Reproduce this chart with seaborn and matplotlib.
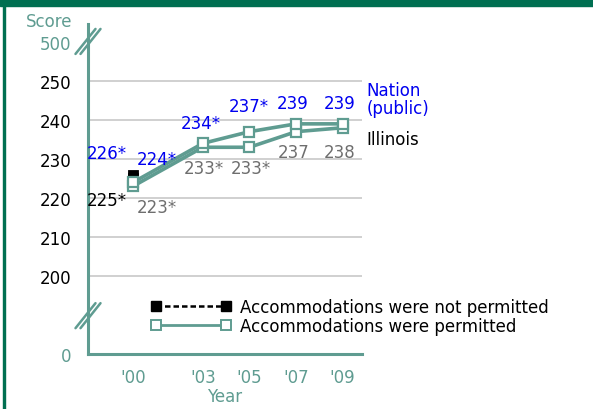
import numpy as np
import pandas as pd
import seaborn as sns
import matplotlib.pyplot as plt
from matplotlib.lines import Line2D
from matplotlib.patches import Rectangle

# ---- data ----
years = [2000, 2003, 2005, 2007, 2009]
year_labels = ["'00", "'03", "'05", "'07", "'09"]
nation_permitted = [224, 234, 237, 239, 239]
illinois_permitted = [223, 233, 233, 237, 238]
not_permitted_year = [2000, 2000]
not_permitted_score = [226, 225]          # nation, illinois
nation_labels = ["224*", "234*", "237*", "239", "239"]
illinois_labels = ["223*", "233*", "233*", "237", "238"]
not_permitted_labels = ["226*", "225*"]
score_ticks = [200, 210, 220, 230, 240, 250]

# ---- styles ----
TEAL = "#5f9c91"
DARK_GREEN = "#006f51"
BLUE = "#0000f0"
GRAY = "#6e6e6e"
FS = 12

sns.set_style("white")
plt.rcParams["font.family"] = ["DejaVu Sans"]
plt.rcParams["text.color"] = "black"
plt.rcParams["ytick.color"] = "black"

fig = plt.figure(figsize=(5.93, 4.10), dpi=100)
W, H = 593, 410
ax = fig.add_axes([88 / W, 1 - 355 / H, (362 - 88) / W, (355 - 25) / H])

# broken axis: "0" drawn at 180, "500" drawn at 260
ZERO_POS, TOP_POS = 180, 260
ax.set_ylim(ZERO_POS, 264.6)
ax.set_xlim(1998.07, 2009.83)

for t in score_ticks:
    ax.axhline(t, color="#c4c4c4", lw=1.1, zorder=0)

# not permitted points (behind)
sns.scatterplot(x=not_permitted_year, y=not_permitted_score, marker="s",
                color="black", s=55, edgecolor="black", ax=ax, zorder=2,
                legend=False)

df = pd.DataFrame({
    "year": years * 2,
    "score": nation_permitted + illinois_permitted,
    "jur": ["Nation"] * len(years) + ["Illinois"] * len(years),
})
sns.lineplot(data=df, x="year", y="score", units="jur", estimator=None,
             color=TEAL, lw=2.6, marker="s", markersize=7,
             markerfacecolor="white", markeredgecolor=TEAL,
             markeredgewidth=1.6, ax=ax, zorder=3, legend=False)

# value labels (offsets in pixels)
nat_off = [(24, 23), (-2, 20), (-1, 26), (-3, 21), (-3, 21)]
ill_off = [(24, -21), (1, -21), (1, -21), (-2, -20), (-3, -24)]
for x, y, s, (dx, dy) in zip(years, nation_permitted, nation_labels, nat_off):
    ax.annotate(s, (x, y), xytext=(dx * 0.72, dy * 0.72), textcoords="offset points",
                ha="center", va="center", color=BLUE, fontsize=FS)
for x, y, s, (dx, dy) in zip(years, illinois_permitted, illinois_labels, ill_off):
    ax.annotate(s, (x, y), xytext=(dx * 0.72, dy * 0.72), textcoords="offset points",
                ha="center", va="center", color=GRAY, fontsize=FS)
np_off = [(-26, 22), (-26, -22)]
np_col = [BLUE, "black"]
for x, y, s, (dx, dy), c in zip(not_permitted_year, not_permitted_score,
                                not_permitted_labels, np_off, np_col):
    ax.annotate(s, (x, y), xytext=(dx * 0.72, dy * 0.72), textcoords="offset points",
                ha="center", va="center", color=c, fontsize=FS)

# series names
ax.annotate("Nation\n(public)", (years[-1], nation_permitted[-1]), xytext=(24 * 0.72, 25 * 0.72),
            textcoords="offset points", ha="left", va="center", color=BLUE,
            fontsize=FS, linespacing=0.95, annotation_clip=False)
ax.annotate("Illinois", (years[-1], illinois_permitted[-1]), xytext=(24 * 0.72, -11 * 0.72),
            textcoords="offset points", ha="left", va="center", color="black",
            fontsize=FS, annotation_clip=False)

# axes
ax.set_xticks(years)
ax.set_xticklabels(year_labels, color=TEAL, fontsize=FS)
ax.set_yticks([ZERO_POS] + score_ticks + [TOP_POS])
ax.set_yticklabels(["0"] + [str(t) for t in score_ticks] + ["500"], fontsize=FS)
for lab in ax.get_yticklabels():
    lab.set_color(TEAL if lab.get_text() in ("0", "500") else "black")
ax.tick_params(axis="y", length=0, pad=12)
ax.tick_params(axis="x", length=0, pad=10)
ax.set_xlabel("Year", color=TEAL, fontsize=FS, labelpad=1)
ax.set_ylabel("")
fig.text(72 / W, 1 - 22 / H, "Score", color=TEAL, fontsize=FS, ha="right", va="center")

sns.despine(ax=ax)
for sp in ("left", "bottom"):
    ax.spines[sp].set_color(TEAL)
    ax.spines[sp].set_linewidth(2.2)

# break marks on the y axis
fig.canvas.draw()
for v in (TOP_POS, 189.7):
    px, py = ax.get_yaxis_transform().transform((0, v))
    for sh in (-2.5, 2.5):
        xs = np.array([px - 10 + sh, px + 10 + sh]) / fig.dpi
        ys = np.array([py - 12, py + 13]) / fig.dpi
        fig.add_artist(Line2D(xs, ys, transform=fig.dpi_scale_trans,
                              color=TEAL, lw=1.8, clip_on=False))

# legend
handles = [
    Line2D([0], [0], color="black", ls=(0, (2.2, 1.2)), lw=1.8, marker="s",
           markersize=6.5, markerfacecolor="black", markeredgecolor="black"),
    Line2D([0], [0], color=TEAL, lw=2.0, marker="s", markersize=6.5,
           markerfacecolor="white", markeredgecolor=TEAL, markeredgewidth=1.4),
]
fig.legend(handles, ["Accommodations were not permitted", "Accommodations were permitted"],
           loc="upper left", bbox_to_anchor=(151 / W, 1 - 299 / H), frameon=False,
           fontsize=FS, handlelength=4.8, handletextpad=0.55, labelspacing=0.05,
           numpoints=2, borderpad=0, borderaxespad=0)

# frame decoration
fig.patches.append(Rectangle((0, 1 - 7 / H), 1, 7 / H, transform=fig.transFigure,
                             color=DARK_GREEN, zorder=5))
fig.patches.append(Rectangle((3 / W, 0), 1.5 / W, 1, transform=fig.transFigure,
                             color=DARK_GREEN, zorder=5))

fig.savefig("out.png", dpi=100)
